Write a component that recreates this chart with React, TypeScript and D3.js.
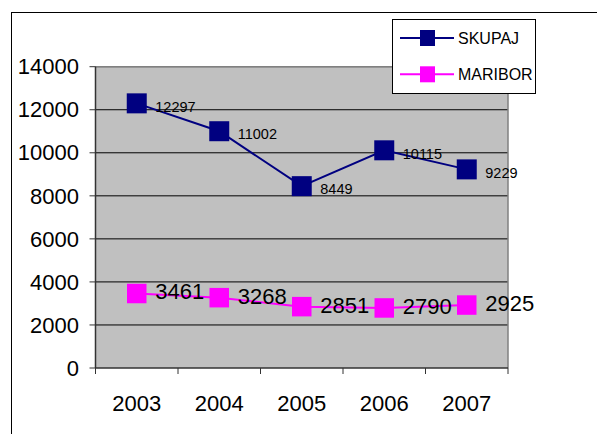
import React from "react";
import * as d3 from "d3";

const years = ["2003", "2004", "2005", "2006", "2007"];
const skupaj = [12297, 11002, 8449, 10115, 9229];
const maribor = [3461, 3268, 2851, 2790, 2925];
const yTicks = [0, 2000, 4000, 6000, 8000, 10000, 12000, 14000];
const seriesNames = ["SKUPAJ", "MARIBOR"];

const W = 597;
const H = 434;
const FONT = "Arial, 'Liberation Sans', sans-serif";

export default function App() {
  const left = 95.5;
  const right = 508;
  const top = 66.7;
  const bottom = 368;
  const x = d3.scaleBand<string>().domain(years).range([left, right]).padding(0);
  const y = d3.scaleLinear().domain([0, 14000]).range([bottom, top]);
  const cx = (d: string) => (x(d) as number) + x.bandwidth() / 2;
  const line = d3
    .line<number>()
    .x((_, i) => cx(years[i]))
    .y((v) => y(v));

  const series = [
    { name: seriesNames[0], values: skupaj, color: "#000080", size: 20, fs: 14.5, dy: 3 },
    { name: seriesNames[1], values: maribor, color: "#FF00FF", size: 19.5, fs: 22, dy: -2 },
  ];

  const boundaries = [...years.map((d) => x(d) as number), right];

  return (
    <svg
      width={W}
      height={H}
      style={{ position: "absolute", left: 0, top: 0, background: "#fff" }}
      fontFamily={FONT}
    >
      {/* outer frame */}
      <rect x={11.5} y={12.5} width={800} height={800} fill="none" stroke="#000" strokeWidth={1} />
      {/* plot area */}
      <rect x={left} y={top} width={right - left} height={bottom - top} fill="#C0C0C0" />
      {yTicks.slice(1).map((t) => (
        <line key={t} x1={left} x2={right} y1={y(t)} y2={y(t)} stroke="#000" strokeWidth={1} />
      ))}
      <line x1={right} x2={right} y1={top} y2={bottom} stroke="#808080" strokeWidth={1.5} />
      <line x1={left} x2={right} y1={top} y2={top} stroke="#808080" strokeWidth={1.2} />
      {/* y axis */}
      <line x1={left} x2={left} y1={top} y2={bottom} stroke="#333" strokeWidth={1.5} />
      {yTicks.map((t) => (
        <g key={t}>
          <line x1={left - 6} x2={left} y1={y(t)} y2={y(t)} stroke="#333" strokeWidth={1} />
          <text x={79} y={y(t) + 7.7} textAnchor="end" fontSize={22} fill="#000">
            {t}
          </text>
        </g>
      ))}
      {/* x axis */}
      <line x1={left} x2={right} y1={bottom} y2={bottom} stroke="#333" strokeWidth={1.5} />
      {boundaries.map((b, i) => (
        <line key={i} x1={b} x2={b} y1={bottom} y2={bottom + 6} stroke="#333" strokeWidth={1} />
      ))}
      {years.map((d) => (
        <text key={d} x={cx(d)} y={410.5} textAnchor="middle" fontSize={22} fill="#000">
          {d}
        </text>
      ))}
      {/* series */}
      {series.map((s) => (
        <g key={s.name}>
          <path d={line(s.values) as string} fill="none" stroke={s.color} strokeWidth={2} />
          {s.values.map((v, i) => (
            <rect
              key={i}
              x={cx(years[i]) - s.size / 2}
              y={y(v) - s.size / 2}
              width={s.size}
              height={s.size}
              fill={s.color}
            />
          ))}
        </g>
      ))}
      {series.map((s) =>
        s.values.map((v, i) => (
          <text
            key={s.name + i}
            x={cx(years[i]) + 18.5}
            y={y(v) + s.dy + s.fs * 0.36}
            fontSize={s.fs}
            fill="#000"
          >
            {v}
          </text>
        ))
      )}
      {/* legend */}
      <rect x={392.5} y={19.5} width={143} height={74} fill="#fff" stroke="#000" strokeWidth={1} />
      {series.map((s, i) => {
        const ly = i === 0 ? 38 : 74.3;
        return (
          <g key={s.name}>
            <line x1={400} x2={454} y1={ly} y2={ly} stroke={s.color} strokeWidth={2} />
            <rect x={420} y={ly - 8} width={15} height={16} fill={s.color} />
            <text x={458} y={ly + 5.8} fontSize={16} fill="#000">
              {s.name}
            </text>
          </g>
        );
      })}
    </svg>
  );
}
